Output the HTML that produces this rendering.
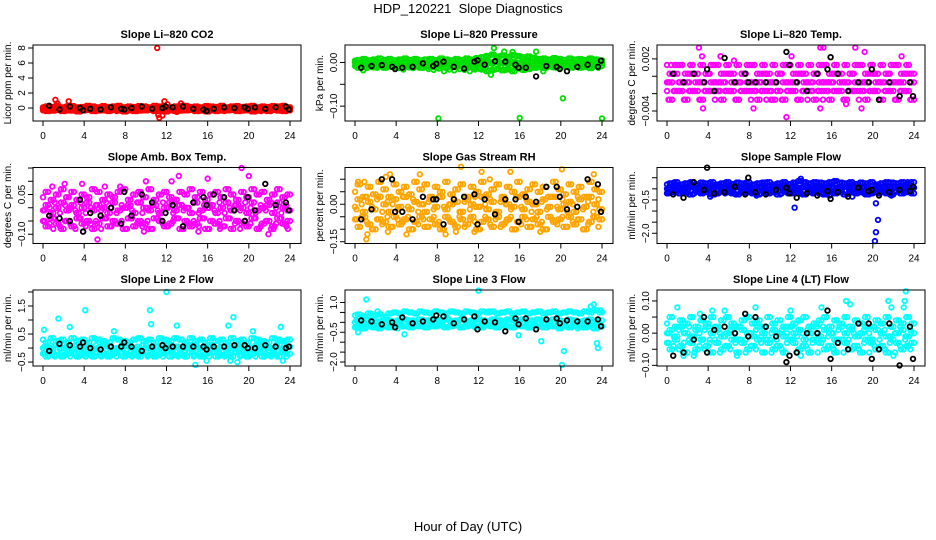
<!DOCTYPE html>
<html><head><meta charset="utf-8"><style>
html,body{margin:0;padding:0;background:#fff;}
svg{display:block;font-family:"Liberation Sans",Arial,sans-serif;}
</style></head><body>
<svg id="chart" width="936" height="540" viewBox="0 0 936 540" xmlns="http://www.w3.org/2000/svg">
<text x="468" y="13" text-anchor="middle" font-size="13">HDP_120221&#160; Slope Diagnostics</text>
<text x="468" y="531" text-anchor="middle" font-size="13">Hour of Day (UTC)</text>
</svg>
<script>
// shared hour positions (data)
const hours = [0,0.5,1,1.5,2,2.5,3,3.5,4,4.5,5,5.5,6,6.5,7,7.5,8,8.5,9,9.5,10,10.5,11,11.5,12,12.5,13,13.5,14,14.5,15,15.5,16,16.5,17,17.5,18,18.5,19,19.5,20,20.5,21,21.5,22,22.5,23,23.5,24];
const blackX = [0.6,1.6,2.6,3.6,3.9,4.6,5.6,6.6,7.6,7.9,8.6,9.6,10.6,11.6,11.9,12.6,13.6,14.6,15.6,15.9,16.6,17.6,18.6,19.6,19.9,20.6,21.6,22.6,23.6,23.9];
const xTicks = [0,4,8,12,16,20,24];

// Panel 1: CO2
const co2R1 = [0.1,0.2,0.15,0.3,0.1,0.2,0.25,0.1,0.15,0.3,0.2,0.1,0.25,0.15,0.2,0.3,0.1,0.2,0.15,0.25,0.2,0.1,0.3,0.2,0.15,0.1,0.2,0.25,0.3,0.15,0.2,0.1,0.25,0.2,0.15,0.3,0.1,0.2,0.25,0.15,0.2,0.3,0.1,0.2,0.15,0.25,0.2,0.3,0.1];
const co2R2 = [-0.05,0,-0.1,0.05,-0.05,0,-0.1,0,-0.05,0.05,-0.1,0,-0.05,0,0.05,-0.1,0,-0.05,0,-0.1,0.05,0,-0.05,-0.1,0,0.05,-0.05,0,-0.1,0,-0.05,0.05,0,-0.1,-0.05,0,0.05,-0.05,0,-0.1,0,-0.05,0.05,0,-0.1,-0.05,0,0.05,-0.05];
const co2R3 = [-0.3,-0.4,-0.35,-0.25,-0.4,-0.3,-0.35,-0.45,-0.3,-0.25,-0.4,-0.35,-0.3,-0.4,-0.25,-0.35,-0.45,-0.3,-0.4,-0.35,-0.3,-0.25,-0.4,-0.35,-0.45,-0.3,-0.4,-0.35,-0.3,-0.25,-0.4,-0.35,-0.45,-0.3,-0.4,-0.35,-0.3,-0.25,-0.4,-0.35,-0.3,-0.45,-0.35,-0.3,-0.4,-0.25,-0.35,-0.4,-0.3];
const co2OutX = [11.1,1.2,2.5,11.8,13.4,11.3,11.6,11.2,21.2,13,1.4,12.1];
const co2OutY = [8.0,1.1,0.9,0.9,0.6,-1.3,-1.0,-0.9,-0.4,-0.5,0.6,0.5];
const co2Black = [0.3,-0.2,0.2,0,-0.3,-0.1,-0.2,0.1,-0.1,-0.2,0,0.2,-0.1,0,0.2,0.1,0.2,-0.1,-0.2,-0.4,-0.1,0.1,0,0.1,-0.1,0.1,-0.1,0.1,0.2,-0.2];

// Panel 2: Pressure
const presR1 = [0.004,0.006,0.008,0.005,0.007,0.009,0.006,0.008,0.005,0.007,0.009,0.006,0.008,0.005,0.007,0.008,0.006,0.009,0.007,0.005,0.008,0.006,0.009,0.007,0.01,0.012,0.015,0.018,0.014,0.016,0.013,0.017,0.015,0.012,0.014,0.011,0.008,0.009,0.007,0.01,0.008,0.006,0.009,0.007,0.008,0.006,0.009,0.007,0.005];
const presR2 = [0,-0.002,0.001,-0.001,0.002,0,-0.002,0.001,-0.001,0,0.002,-0.002,0.001,0,-0.001,0.002,0,-0.002,0.001,0,-0.001,0.002,0,0.001,-0.002,0,0.002,-0.001,0.001,0,-0.002,0.002,0,-0.001,0.001,0,-0.002,0.001,0,-0.001,0.002,0,-0.002,0.001,0,-0.001,0.001,0,-0.002];
const presR3 = [-0.008,-0.012,-0.01,-0.006,-0.011,-0.009,-0.012,-0.008,-0.01,-0.013,-0.007,-0.011,-0.009,-0.012,-0.008,-0.01,-0.011,-0.007,-0.012,-0.009,-0.01,-0.008,-0.012,-0.011,-0.014,-0.016,-0.02,-0.017,-0.015,-0.018,-0.016,-0.02,-0.014,-0.017,-0.015,-0.012,-0.01,-0.013,-0.009,-0.011,-0.012,-0.008,-0.011,-0.009,-0.012,-0.01,-0.013,-0.009,-0.008];
const presOutX = [8.1,16,24,13.5,20.2,17.6,13.2,18.3,14.5,15.3,0.8,4.7];
const presOutY = [-0.128,-0.127,-0.128,0.033,-0.082,0.025,-0.028,-0.02,0.025,0.024,-0.018,-0.016];
const presBlack = [-0.012,-0.008,-0.006,-0.01,-0.015,-0.012,-0.01,-0.002,-0.008,-0.003,0.002,-0.01,-0.014,0.002,0.005,-0.005,0.003,0.002,-0.005,-0.012,-0.012,-0.032,-0.008,-0.01,-0.015,-0.02,-0.01,-0.005,-0.01,0.004];

// Panel 3: Li-820 Temp
const tmpR1 = [0.0013,0.0003,0.0013,0.0013,0.0003,0.0013,0.0003,0.0013,0.0003,0.0013,0.0013,0.0003,0.0013,0.0003,0.0013,0.0003,0.0013,0.0013,0.0003,0.0013,0.0003,0.0013,0.0003,0.0013,0.0013,0.0003,0.0013,0.0003,0.0013,0.0003,0.0013,0.0013,0.0003,0.0013,0.0003,0.0013,0.0003,0.0013,0.0013,0.0003,0.0013,0.0003,0.0013,0.0003,0.0013,0.0013,0.0003,0.0013,0.0003];
const tmpR2 = [-0.0007,-0.0007,0.0003,-0.0007,-0.0007,0.0003,-0.0007,-0.0007,0.0003,-0.0007,-0.0007,-0.0007,0.0003,-0.0007,-0.0007,0.0003,-0.0007,-0.0007,-0.0007,0.0003,-0.0007,-0.0007,0.0003,-0.0007,-0.0007,-0.0007,0.0003,-0.0007,-0.0007,0.0003,-0.0007,-0.0007,-0.0007,0.0003,-0.0007,-0.0007,0.0003,-0.0007,-0.0007,-0.0007,0.0003,-0.0007,-0.0007,0.0003,-0.0007,-0.0007,-0.0007,0.0003,-0.0007];
const tmpR3 = [-0.0017,-0.0027,-0.0017,-0.0017,-0.0027,-0.0017,-0.0017,-0.0027,-0.0017,-0.0017,-0.0017,-0.0027,-0.0017,-0.0017,-0.0027,-0.0017,-0.0017,-0.0017,-0.0027,-0.0017,-0.0017,-0.0027,-0.0017,-0.0027,-0.0017,-0.0017,-0.0027,-0.0017,-0.0017,-0.0027,-0.0017,-0.0017,-0.0027,-0.0017,-0.0017,-0.0027,-0.0017,-0.0017,-0.0017,-0.0027,-0.0017,-0.0017,-0.0027,-0.0017,-0.0017,-0.0027,-0.0017,-0.0017,-0.0027];
const tmpOutX = [3.1,14.9,15.2,18.3,19.2,5.2,3.4,22.8,12.1,11.6,3.5,8.4,14.9,18.9,0.4,6.5,10.1,17.4];
const tmpOutY = [0.0033,0.0033,0.0033,0.0033,0.0028,0.0023,0.0023,0.0023,0.0023,-0.0047,-0.0037,-0.0037,-0.0037,-0.0037,0.0013,0.0018,-0.0027,-0.0032];
const tmpBlack = [0.0003,-0.0007,0.0003,-0.0007,0.0008,-0.0017,0.0021,-0.0007,0.0003,-0.0007,-0.0007,-0.0007,-0.0007,0.0028,0.0013,-0.0007,-0.0017,0.0003,0.0008,0.0022,0.0003,-0.0017,-0.0007,-0.0007,0.0008,-0.0027,-0.0007,-0.0023,-0.0007,-0.0023];

// Panel 4: Amb. Box Temp
const ambR1 = [0.04,0.06,0.03,0.05,0.07,0.04,0.06,0.03,0.05,0.04,0.07,0.06,0.03,0.05,0.04,0.06,0.07,0.03,0.05,0.06,0.04,0.07,0.03,0.05,0.06,0.04,0.03,0.06,0.05,0.07,0.04,0.06,0.03,0.05,0.06,0.04,0.07,0.05,0.03,0.06,0.04,0.07,0.05,0.06,0.03,0.05,0.07,0.04,0.05];
const ambR2 = [-0.01,0.01,-0.02,0,0.02,-0.01,0.01,-0.02,0,0.02,-0.01,0.01,0,-0.02,0.02,-0.01,0,0.01,-0.02,0.02,0,-0.01,0.01,-0.02,0,0.02,-0.01,0.01,0,-0.02,0.02,-0.01,0,0.01,-0.02,0,0.02,-0.01,0.01,0,-0.02,0.02,-0.01,0,0.01,-0.02,0.02,0,-0.01];
const ambR3 = [-0.05,-0.07,-0.04,-0.06,-0.08,-0.05,-0.07,-0.04,-0.06,-0.05,-0.08,-0.06,-0.04,-0.07,-0.05,-0.06,-0.08,-0.04,-0.07,-0.05,-0.06,-0.08,-0.04,-0.05,-0.07,-0.06,-0.04,-0.08,-0.05,-0.07,-0.06,-0.04,-0.08,-0.05,-0.06,-0.07,-0.04,-0.08,-0.05,-0.06,-0.07,-0.04,-0.08,-0.06,-0.05,-0.07,-0.04,-0.06,-0.05];
const ambOutX = [0.9,2.1,3.8,5.3,7.5,10.0,12.5,13.2,16.0,19.3,20.0,21.9,22.4,23.8,15.1,9.8,1.0,3.9,17.2,6.0];
const ambOutY = [0.08,0.09,0.09,-0.12,0.08,0.1,0.1,0.12,0.11,0.15,0.12,-0.1,-0.08,-0.08,-0.09,-0.09,-0.08,-0.09,-0.08,0.08];
const ambBlack = [-0.03,-0.04,-0.05,0.03,-0.09,-0.02,-0.03,0,-0.06,0.06,-0.03,0.05,0.02,-0.05,-0.02,0.01,-0.07,0.02,0.04,0.01,0.05,0.04,-0.01,-0.05,0.04,-0.01,0.09,0.01,0.02,-0.01];

// Panel 5: Gas Stream RH
const rhR1 = [0.05,0.08,0.03,0.07,0.04,0.09,0.06,0.03,0.08,0.05,0.07,0.04,0.09,0.06,0.08,0.03,0.07,0.05,0.09,0.04,0.06,0.08,0.03,0.07,0.05,0.09,0.04,0.06,0.08,0.03,0.07,0.05,0.09,0.04,0.06,0.08,0.05,0.07,0.03,0.09,0.06,0.04,0.08,0.05,0.07,0.03,0.09,0.06,0.05];
const rhR2 = [-0.01,0.02,-0.03,0.01,-0.02,0.03,0,-0.03,0.02,-0.01,0.03,-0.02,0.01,0,-0.03,0.02,-0.01,0.03,-0.02,0,0.01,-0.03,0.02,0,-0.01,0.03,-0.02,0.01,-0.03,0.02,0,-0.01,0.03,-0.02,0.01,0,-0.03,0.02,-0.01,0.03,-0.02,0,0.01,-0.03,0.02,-0.01,0.03,0,-0.02];
const rhR3 = [-0.06,-0.09,-0.05,-0.08,-0.1,-0.06,-0.07,-0.09,-0.05,-0.08,-0.06,-0.1,-0.07,-0.05,-0.09,-0.06,-0.08,-0.1,-0.05,-0.07,-0.09,-0.06,-0.08,-0.05,-0.1,-0.07,-0.06,-0.09,-0.05,-0.08,-0.06,-0.1,-0.07,-0.05,-0.09,-0.06,-0.08,-0.1,-0.05,-0.07,-0.06,-0.09,-0.05,-0.08,-0.06,-0.1,-0.07,-0.05,-0.06];
const rhOutX = [0.3,1.2,1.1,3.2,3.4,5.0,6.3,10.3,11.6,12.3,13.1,15.1,18.0,20.1,23.2,22.2,8.8,9.8,0.9,3.0];
const rhOutY = [0.09,-0.12,-0.14,-0.11,0.12,-0.12,0.12,0.15,-0.11,0.13,0.1,0.13,-0.11,0.14,0.12,-0.1,-0.12,-0.11,0.09,0.11];
const rhBlack = [-0.06,-0.02,0.1,0.1,-0.03,-0.03,-0.06,0.03,0.02,0.02,-0.08,0.02,0.03,0.04,-0.08,0.02,-0.04,0.02,0.02,-0.07,0.03,0.01,0.07,0.07,0.03,-0.02,-0.01,0.1,0.08,-0.03];

// Panel 6: Sample Flow
const sfR1 = [0.2,0.25,0.3,0.2,0.25,0.3,0.2,0.28,0.25,0.3,0.2,0.25,0.3,0.22,0.28,0.25,0.3,0.2,0.25,0.28,0.3,0.2,0.25,0.3,0.22,0.28,0.35,0.3,0.25,0.3,0.28,0.25,0.3,0.35,0.28,0.25,0.3,0.22,0.28,0.25,0.3,0.2,0.25,0.3,0.28,0.25,0.3,0.22,0.3];
const sfR2 = [0,0.05,0.1,0,0.05,0.1,0.02,0.08,0,0.05,0.1,0.02,0.06,0,0.08,0.05,0.1,0,0.05,0.08,0.02,0.1,0.05,0,0.06,0.1,0.05,0.08,0,0.05,0.1,0.02,0.08,0.05,0,0.1,0.05,0.02,0.08,0.05,0,0.1,0.05,0.08,0.02,0.05,0.1,0,0.05];
const sfR3 = [-0.2,-0.15,-0.1,-0.2,-0.15,-0.25,-0.1,-0.2,-0.15,-0.25,-0.2,-0.1,-0.15,-0.2,-0.25,-0.1,-0.15,-0.2,-0.25,-0.1,-0.2,-0.15,-0.25,-0.1,-0.2,-0.15,-0.2,-0.25,-0.1,-0.15,-0.2,-0.25,-0.1,-0.2,-0.15,-0.25,-0.1,-0.2,-0.15,-0.25,-0.2,-0.1,-0.15,-0.2,-0.25,-0.1,-0.2,-0.15,-0.2];
const sfOutX = [12.4,20.3,20.5,20.3,20.2,13,18,8.7,15.8,21.8,23.4,4.2];
const sfOutY = [-0.85,-0.65,-1.4,-1.95,-2.35,0.45,-0.35,-0.3,-0.3,-0.3,0.3,-0.35];
const sfBlack = [-0.25,-0.4,0.3,-0.05,0.95,-0.2,-0.15,0.1,-0.25,0.5,-0.15,-0.25,-0.05,0.05,-0.2,-0.4,-0.2,-0.3,-0.1,-0.45,-0.15,-0.35,0.05,-0.1,-0.05,-0.3,-0.15,-0.05,-0.1,0.1];

// Panel 7: Line 2 Flow
const l2R1 = [0.3,0.2,0.35,0.25,0.3,0.2,0.35,0.25,0.3,0.2,0.35,0.3,0.25,0.2,0.35,0.3,0.25,0.2,0.3,0.35,0.25,0.3,0.2,0.35,0.3,0.25,0.35,0.3,0.2,0.35,0.25,0.3,0.2,0.35,0.25,0.3,0.2,0.35,0.25,0.3,0.2,0.35,0.3,0.25,0.2,0.35,0.3,0.25,0.3];
const l2R2 = [0,0.05,-0.05,0.1,0,0.05,-0.05,0.1,0,0.05,-0.05,0,0.1,0.05,-0.05,0,0.1,0.05,0,-0.05,0.1,0,0.05,-0.05,0.1,0,0.05,-0.05,0,0.1,0.05,0,-0.05,0.1,0,0.05,-0.05,0,0.1,0.05,-0.05,0,0.1,0.05,0,-0.05,0.1,0,0.05];
const l2R3 = [-0.2,-0.3,-0.15,-0.25,-0.3,-0.2,-0.15,-0.3,-0.25,-0.2,-0.3,-0.15,-0.25,-0.3,-0.2,-0.15,-0.3,-0.25,-0.2,-0.3,-0.15,-0.25,-0.3,-0.2,-0.15,-0.3,-0.25,-0.2,-0.3,-0.15,-0.25,-0.3,-0.2,-0.15,-0.3,-0.25,-0.2,-0.3,-0.15,-0.25,-0.3,-0.2,-0.15,-0.3,-0.25,-0.2,-0.3,-0.15,-0.2];
const l2OutX = [12,4.1,10.4,1.5,18.5,14.8,0.1,2.6,10.5,13,18,15.9,18.2,18.9,23.1,23.3,6.9,20.4];
const l2OutY = [2.0,1.35,1.35,1.05,1.1,-0.6,0.65,0.75,0.85,0.8,0.8,-0.45,-0.45,-0.5,0.75,-0.45,0.6,0.6];
const l2Black = [-0.1,0.15,0.1,0.05,0.2,0,-0.05,0.05,0.05,0.2,0.05,-0.1,0.05,0.1,0,0.05,0.05,0.05,0.05,-0.05,0.05,0.05,0.1,0.1,0,0,0.1,0.05,0,0.05];

// Panel 8: Line 3 Flow
const l3R1 = [0.35,0.4,0.3,0.45,0.35,0.4,0.3,0.45,0.5,0.45,0.55,0.5,0.45,0.55,0.5,0.45,0.55,0.5,0.45,0.55,0.5,0.45,0.55,0.5,0.45,0.55,0.5,0.55,0.45,0.5,0.55,0.45,0.5,0.55,0.45,0.5,0.55,0.45,0.5,0.55,0.45,0.5,0.55,0.5,0.45,0.55,0.5,0.6,0.5];
const l3R2 = [0,0.05,-0.05,0.1,0,0.05,-0.05,0.1,0.05,0.1,0.15,0.1,0.05,0.15,0.1,0.05,0.15,0.1,0.15,0.05,0.1,0.15,0.05,0.1,0.15,0.1,0.05,0.15,0.1,0.05,0.15,0.1,0.05,0.15,0.1,0.05,0.15,0.1,0.05,0.15,0.1,0.05,0.15,0.1,0.05,0.1,0.15,0.05,0.1];
const l3R3 = [-0.25,-0.2,-0.3,-0.2,-0.25,-0.3,-0.2,-0.25,-0.2,-0.15,-0.2,-0.25,-0.15,-0.2,-0.25,-0.15,-0.2,-0.15,-0.25,-0.2,-0.15,-0.25,-0.2,-0.15,-0.2,-0.25,-0.15,-0.2,-0.25,-0.15,-0.2,-0.25,-0.15,-0.2,-0.25,-0.15,-0.2,-0.25,-0.15,-0.2,-0.3,-0.2,-0.25,-0.15,-0.2,-0.25,-0.2,-0.3,-0.2];
const l3OutX = [1.1,12,20.1,20.3,23.5,23.6,0.3,4.8,18.1,15.9,22.9,23.2,2.2,13,23.9];
const l3OutY = [1.15,1.6,-2.15,-1.45,-1.05,-1.3,-0.5,-0.6,-0.95,-0.65,0.8,0.9,0.55,0.55,0.6];
const l3Black = [0.1,0.05,-0.1,0,-0.25,0.25,-0.05,0.05,0.15,0.35,0.3,-0.05,0.15,0.3,-0.35,0.05,0.0,-0.45,0.2,-0.1,0.2,-0.35,0.15,0.2,-0.05,0.1,0.05,0.05,0.15,-0.2];

// Panel 9: Line 4 (LT) Flow
const l4R1 = [0.03,0.05,0.02,0.04,0.03,0.05,0.02,0.04,0.03,0.05,0.02,0.04,0.05,0.03,0.02,0.04,0.05,0.03,0.04,0.02,0.05,0.03,0.04,0.02,0.05,0.03,0.04,0.05,0.02,0.03,0.04,0.05,0.02,0.04,0.03,0.05,0.02,0.04,0.03,0.05,0.02,0.04,0.03,0.05,0.02,0.04,0.03,0.05,0.03];
const l4R2 = [0,0.01,-0.01,0.02,0,-0.01,0.01,-0.02,0.02,0,0.01,-0.01,0,0.02,-0.02,0.01,0,-0.01,0.02,0,-0.02,0.01,0,-0.01,0.02,0,0.01,-0.02,0,0.02,-0.01,0.01,0,-0.02,0.02,0,0.01,-0.01,0,0.02,-0.02,0.01,0,-0.01,0.02,0,0.01,-0.01,0];
const l4R3 = [-0.03,-0.05,-0.02,-0.04,-0.06,-0.03,-0.05,-0.02,-0.04,-0.06,-0.03,-0.05,-0.04,-0.02,-0.06,-0.03,-0.05,-0.04,-0.02,-0.06,-0.03,-0.05,-0.04,-0.06,-0.02,-0.03,-0.05,-0.04,-0.06,-0.02,-0.03,-0.05,-0.04,-0.06,-0.02,-0.03,-0.05,-0.04,-0.06,-0.02,-0.03,-0.05,-0.04,-0.06,-0.02,-0.03,-0.05,-0.04,-0.03];
const l4OutX = [1.0,1.6,3.2,4.4,5.6,8.6,12,13,15,17.4,17.8,21.5,21.8,23.0,23.1,23.2,2.6,6.8,16.2,22];
const l4OutY = [0.08,-0.07,0.06,0.07,0.07,0.08,0.07,-0.07,0.08,0.1,0.09,0.1,0.08,0.08,0.1,0.13,-0.07,-0.07,-0.05,-0.07];
const l4Black = [-0.07,-0.06,-0.02,0.05,-0.06,0.01,0.02,0,0.06,-0.01,0.05,0.02,-0.01,-0.09,-0.07,-0.06,0.0,0.0,0.07,-0.08,-0.03,-0.05,0.03,0.03,-0.08,-0.05,0.03,-0.1,0.02,-0.08];

const panels = [
 {name:'co2',title:'Slope Li\u2013820 CO2',ylab:'Licor ppm per min.',col:0,row:0,ylim:[-1.73,8.4],ticks:[0,2,4,6,8],labels:['0','2','4','6','8'],color:'#ff0000',rows:[co2R1,co2R2,co2R3],ox:co2OutX,oy:co2OutY,blk:co2Black},
 {name:'pressure',title:'Slope Li\u2013820 Pressure',ylab:'kPa per min.',col:1,row:0,ylim:[-0.134,0.04],ticks:[0,-0.05,-0.1],labels:['0.00','','\u22120.10'],color:'#00e000',rows:[presR1,presR2,presR3],ox:presOutX,oy:presOutY,blk:presBlack},
 {name:'li820-temp',title:'Slope Li\u2013820 Temp.',ylab:'degrees C per min.',col:2,row:0,ylim:[-0.00515,0.0036],ticks:[0.002,0,-0.002,-0.004],labels:['0.002','','','\u22120.004'],color:'#ff00ff',rows:[tmpR1,tmpR2,tmpR3],ox:tmpOutX,oy:tmpOutY,blk:tmpBlack},
 {name:'amb-box-temp',title:'Slope Amb. Box Temp.',ylab:'degrees C per min.',col:0,row:1,ylim:[-0.135,0.152],ticks:[0.15,0.1,0.05,0,-0.05,-0.1],labels:['','','0.05','','','\u22120.10'],color:'#ff00ff',rows:[ambR1,ambR2,ambR3],ox:ambOutX,oy:ambOutY,blk:ambBlack},
 {name:'gas-stream-rh',title:'Slope Gas Stream RH',ylab:'percent per min.',col:1,row:1,ylim:[-0.157,0.147],ticks:[0.1,0.05,0,-0.05,-0.1,-0.15],labels:['','','0.00','','','\u22120.15'],color:'#ffa500',rows:[rhR1,rhR2,rhR3],ox:rhOutX,oy:rhOutY,blk:rhBlack},
 {name:'sample-flow',title:'Slope Sample Flow',ylab:'ml/min per min.',col:2,row:1,ylim:[-2.46,0.96],ticks:[0.5,0,-0.5,-1,-1.5,-2],labels:['','','\u22120.5','','','\u22122.0'],color:'#0000ff',rows:[sfR1,sfR2,sfR3],ox:sfOutX,oy:sfOutY,blk:sfBlack},
 {name:'line2-flow',title:'Slope Line 2 Flow',ylab:'ml/min per min.',col:0,row:2,ylim:[-0.64,2.07],ticks:[2,1.5,1,0.5,0,-0.5],labels:['','1.5','','0.5','','\u22120.5'],color:'#00ffff',rows:[l2R1,l2R2,l2R3],ox:l2OutX,oy:l2OutY,blk:l2Black},
 {name:'line3-flow',title:'Slope Line 3 Flow',ylab:'ml/min per min.',col:1,row:2,ylim:[-2.2,1.63],ticks:[1,0.5,0,-0.5,-1,-1.5,-2],labels:['1.0','','','\u22120.5','','','\u22122.0'],color:'#00ffff',rows:[l3R1,l3R2,l3R3],ox:l3OutX,oy:l3OutY,blk:l3Black},
 {name:'line4-flow',title:'Slope Line 4 (LT) Flow',ylab:'ml/min per min.',col:2,row:2,ylim:[-0.102,0.134],ticks:[0.1,0.05,0,-0.05,-0.1],labels:['0.10','','0.00','','\u22120.10'],color:'#00ffff',rows:[l4R1,l4R2,l4R3],ox:l4OutX,oy:l4OutY,blk:l4Black}
];

const NS='http://www.w3.org/2000/svg';
const svg=document.getElementById('chart');
function mk(tag,attrs,parent){const e=document.createElementNS(NS,tag);for(const k in attrs)e.setAttribute(k,attrs[k]);parent.appendChild(e);return e;}

panels.forEach(p=>{
  const L=33+p.col*312, R=L+268, T=45+p.row*122.5, B=T+76;
  const x0=L+10, xs=247/24;
  const X=h=>x0+h*xs;
  const Y=v=>B-(v-p.ylim[0])/(p.ylim[1]-p.ylim[0])*(B-T);
  const g=mk('g',{},svg);
  
  
  const t=mk('text',{x:(L+R)/2,y:T-7,'text-anchor':'middle','font-size':11,'font-weight':'bold'},g);
  t.textContent=p.title;
  
  
  const yl=mk('text',{x:0,y:0,'text-anchor':'middle','font-size':10,transform:`translate(${L-22},${(T+B)/2}) rotate(-90)`},g);
  yl.textContent=p.ylab;
  
  
  const pts=mk('g',{fill:'none','stroke-width':1.8},g);
  
  
  const dot=(h,v,c)=>{const ci=mk('circle',{cx:X(h).toFixed(1),cy:Y(v).toFixed(1),r:2.3,stroke:c},pts);
    
    };
  p.rows.forEach(r=>r.forEach((v,i)=>dot(hours[i],v,p.color)));
  p.rows.forEach(r=>r.forEach((v,i)=>{if(i<48)dot(hours[i]+0.25,r[i+1],p.color);}));
  p.rows.forEach((r,k)=>r.forEach((v,i)=>{if(i<48&&k<2)dot(hours[i]+0.15,p.rows[k+1][48-i],p.color);}));
  p.ox.forEach((h,i)=>dot(h,p.oy[i],p.color));
  p.blk.forEach((v,i)=>dot(blackX[i],v,'#000'));
  const bx=mk('rect',{x:L,y:T,width:R-L,height:B-T,fill:'none',stroke:'#000','stroke-width':1},g);
  
  
  const xa=mk('g',{},g);
  
  
  mk('line',{x1:X(0),x2:X(24),y1:B,y2:B,stroke:'#000'},xa);
  xTicks.forEach(h=>{mk('line',{x1:X(h),x2:X(h),y1:B,y2:B+5,stroke:'#000'},xa);
    const tl=mk('text',{x:X(h),y:B+18,'text-anchor':'middle','font-size':10},xa);tl.textContent=String(h);
    
    });
  const ya=mk('g',{},g);
  
  
  const tv=p.ticks;
  mk('line',{x1:L,x2:L,y1:Y(Math.min(...tv)),y2:Y(Math.max(...tv)),stroke:'#000'},ya);
  tv.forEach((v,i)=>{const yy=Y(v);mk('line',{x1:L-5,x2:L,y1:yy,y2:yy,stroke:'#000'},ya);
    if(p.labels[i]){const tl=mk('text',{x:0,y:0,'text-anchor':'middle','font-size':10,transform:`translate(${L-8},${yy}) rotate(-90)`},ya);tl.textContent=p.labels[i];
      
      }});
});
</script>
</body></html>
